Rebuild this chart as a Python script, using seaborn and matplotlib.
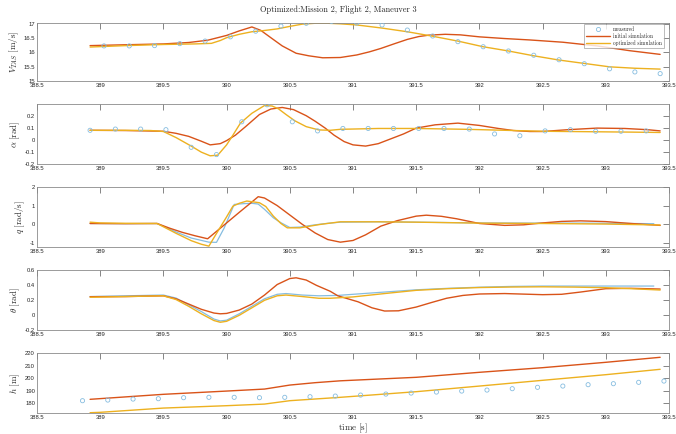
import numpy as np
import pandas as pd
import matplotlib
matplotlib.use('Agg')
import matplotlib.pyplot as plt
from matplotlib.ticker import FuncFormatter, MultipleLocator
import seaborn as sns

# ---------------- data ----------------
# measured samples
meas_V_t = [389.03 + 0.2 * k for k in range(23)]
meas_V = [16.23, 16.23, 16.24, 16.31, 16.40, 16.55, 16.75, 16.93, 17.03, 17.10, 17.04, 16.97,
          16.79, 16.58, 16.38, 16.20, 16.05, 15.90, 15.74, 15.60, 15.42, 15.31, 15.25]

meas_a_t = [388.92 + 0.2 * k for k in range(23)]
meas_a = [0.08, 0.09, 0.09, 0.085, -0.06, -0.12, 0.15, 0.29, 0.15, 0.075, 0.095, 0.095,
          0.095, 0.095, 0.095, 0.09, 0.05, 0.035, 0.075, 0.085, 0.072, 0.072, 0.075]

meas_q_t = [388.92, 389.2, 389.45, 389.6, 389.72, 389.86, 389.92, 389.98, 390.06, 390.13, 390.2,
            390.25, 390.3, 390.37, 390.43, 390.5, 390.58, 390.7, 390.8, 390.9, 391.2, 391.5,
            392.0, 392.5, 392.8, 393.0, 393.2, 393.38]
meas_q = [0.05, 0.04, 0.05, -0.4, -0.72, -0.94, -0.95, -0.2, 1.06, 1.1, 1.12,
          1.08, 0.8, 0.35, 0.09, -0.16, -0.14, -0.02, 0.06, 0.12, 0.14, 0.12,
          0.08, 0.07, 0.07, 0.06, 0.05, 0.04]

meas_th_t = [388.92, 389.2, 389.5, 389.6, 389.7, 389.8, 389.9, 389.95, 390.0, 390.1, 390.2,
             390.3, 390.4, 390.47, 390.6, 390.73, 390.88, 391.0, 391.25, 391.5, 391.75,
             392.0, 392.25, 392.5, 392.75, 393.0, 393.2, 393.38]
meas_th = [0.25, 0.26, 0.27, 0.23, 0.14, 0.05, -0.05, -0.075, -0.065, 0.02, 0.12,
           0.22, 0.28, 0.29, 0.27, 0.26, 0.265, 0.28, 0.31, 0.34, 0.36,
           0.375, 0.385, 0.39, 0.39, 0.39, 0.39, 0.39]

meas_h_t = [388.86 + 0.2 * k for k in range(24)]
meas_h = [182.1, 182.6, 183.4, 183.7, 184.5, 184.8, 184.8, 184.5, 184.8, 185.3, 185.8, 186.6,
          187.4, 188.2, 189.0, 189.8, 190.6, 191.7, 192.8, 193.8, 194.9, 195.7, 196.8, 197.8]

# initial simulation
init_V_t = [388.92, 389.2, 389.5, 389.7, 389.85, 390.0, 390.1, 390.2, 390.27, 390.35, 390.44,
            390.55, 390.65, 390.76, 390.9, 391.03, 391.13, 391.22, 391.33, 391.43, 391.52,
            391.6, 391.73, 391.85, 392.0, 392.2, 392.4, 392.66, 392.93, 393.19, 393.43]
init_V = [16.24, 16.27, 16.30, 16.35, 16.43, 16.60, 16.76, 16.90, 16.78, 16.52, 16.23,
          15.97, 15.88, 15.81, 15.82, 15.91, 16.02, 16.14, 16.31, 16.46, 16.56,
          16.61, 16.64, 16.62, 16.55, 16.49, 16.44, 16.36, 16.23, 16.06, 15.93]

init_a_t = [388.92, 389.2, 389.5, 389.6, 389.7, 389.8, 389.87, 389.95, 390.0, 390.07, 390.15,
            390.26, 390.35, 390.44, 390.53, 390.63, 390.7, 390.78, 390.85, 390.93, 391.0,
            391.1, 391.2, 391.3, 391.4, 391.5, 391.65, 391.83, 392.0, 392.15, 392.27, 392.4,
            392.5, 392.7, 392.93, 393.15, 393.33, 393.43]
init_a = [0.08, 0.078, 0.072, 0.055, 0.03, -0.01, -0.04, -0.03, -0.005, 0.04, 0.11,
          0.21, 0.255, 0.268, 0.25, 0.20, 0.155, 0.098, 0.04, -0.013, -0.04,
          -0.05, -0.03, 0.01, 0.05, 0.098, 0.125, 0.139, 0.12, 0.095, 0.078, 0.07,
          0.07, 0.085, 0.098, 0.095, 0.085, 0.075]

init_q_t = [388.92, 389.2, 389.45, 389.55, 389.65, 389.75, 389.85, 389.9, 390.0, 390.1, 390.2,
            390.25, 390.3, 390.4, 390.5, 390.6, 390.7, 390.8, 390.9, 391.0, 391.1, 391.22,
            391.35, 391.5, 391.58, 391.7, 391.82, 392.0, 392.2, 392.35, 392.5, 392.65, 392.8,
            393.0, 393.2, 393.43]
init_q = [0.05, 0.04, 0.05, -0.2, -0.42, -0.6, -0.76, -0.48, 0.08, 0.64, 1.19,
          1.47, 1.4, 1.0, 0.5, 0.0, -0.45, -0.8, -0.94, -0.85, -0.55, -0.09,
          0.2, 0.44, 0.49, 0.43, 0.30, 0.05, -0.05, -0.02, 0.08, 0.16, 0.19,
          0.15, 0.05, -0.05]

init_th_t = [388.92, 389.2, 389.5, 389.6, 389.7, 389.8, 389.9, 389.95, 390.0, 390.1, 390.2,
             390.3, 390.4, 390.5, 390.55, 390.63, 390.71, 390.82, 390.88, 391.04, 391.15,
             391.25, 391.36, 391.5, 391.62, 391.74, 391.87, 392.0, 392.2, 392.5, 392.65,
             392.8, 393.0, 393.2, 393.43]
init_th = [0.248, 0.25, 0.26, 0.22, 0.15, 0.08, 0.03, 0.02, 0.025, 0.07, 0.15,
           0.27, 0.41, 0.49, 0.50, 0.47, 0.40, 0.32, 0.26, 0.18, 0.10,
           0.057, 0.06, 0.11, 0.17, 0.227, 0.265, 0.284, 0.29, 0.275, 0.28,
           0.31, 0.355, 0.36, 0.35]

init_h_t = [388.92, 389.5, 390.0, 390.3, 390.5, 390.7, 390.9, 391.5, 392.0, 392.5, 393.0, 393.43]
init_h = [183.2, 187.2, 189.8, 191.4, 194.6, 196.5, 198.0, 200.8, 204.8, 208.5, 212.8, 216.8]

# optimized simulation
opt_V_t = [388.92, 389.2, 389.5, 389.75, 389.88, 389.95, 390.0, 390.1, 390.2, 390.29, 390.4,
           390.5, 390.6, 390.7, 390.8, 390.9, 391.03, 391.23, 391.43, 391.62, 391.83, 392.03,
           392.23, 392.43, 392.63, 392.83, 393.03, 393.23, 393.43]
opt_V = [16.19, 16.24, 16.28, 16.30, 16.32, 16.42, 16.52, 16.64, 16.73, 16.77, 16.83,
         16.92, 17.00, 17.03, 17.03, 17.01, 16.97, 16.86, 16.73, 16.58, 16.40, 16.20,
         16.05, 15.88, 15.73, 15.61, 15.49, 15.44, 15.41]

opt_a_t = [388.92, 389.2, 389.4, 389.5, 389.6, 389.72, 389.8, 389.87, 389.93, 390.0, 390.05,
           390.11, 390.2, 390.3, 390.36, 390.41, 390.47, 390.54, 390.63, 390.73, 390.82,
           390.9, 391.2, 391.5, 391.9, 392.2, 392.5, 392.9, 393.2, 393.43]
opt_a = [0.08, 0.08, 0.078, 0.07, 0.02, -0.05, -0.10, -0.13, -0.125, -0.04, 0.04,
         0.14, 0.22, 0.284, 0.28, 0.257, 0.21, 0.158, 0.11, 0.083, 0.08,
         0.088, 0.095, 0.095, 0.088, 0.08, 0.072, 0.068, 0.065, 0.062]

opt_q_t = [388.92, 389.0, 389.2, 389.45, 389.6, 389.72, 389.8, 389.86, 389.9, 389.95, 390.0,
           390.05, 390.1, 390.16, 390.26, 390.31, 390.37, 390.43, 390.48, 390.58, 390.74,
           390.9, 391.2, 391.5, 392.0, 392.5, 393.0, 393.43]
opt_q = [0.12, 0.08, 0.06, 0.05, -0.47, -0.86, -1.05, -1.15, -0.7, -0.15, 0.4,
         0.97, 1.12, 1.24, 1.15, 0.95, 0.44, 0.05, -0.18, -0.18, 0.0,
         0.14, 0.14, 0.12, 0.07, 0.05, 0.02, -0.03]

opt_th_t = [388.92, 389.2, 389.5, 389.6, 389.7, 389.8, 389.9, 389.95, 390.0, 390.1, 390.2,
            390.3, 390.4, 390.47, 390.6, 390.73, 390.82, 391.0, 391.25, 391.5, 391.75, 392.0,
            392.25, 392.5, 392.75, 393.0, 393.2, 393.43]
opt_th = [0.24, 0.25, 0.26, 0.21, 0.12, 0.02, -0.07, -0.093, -0.08, 0.0, 0.10,
          0.2, 0.26, 0.27, 0.25, 0.227, 0.227, 0.245, 0.29, 0.333, 0.355, 0.37,
          0.377, 0.38, 0.376, 0.368, 0.355, 0.337]

opt_h_t = [388.92, 389.0, 389.5, 390.0, 390.3, 390.5, 390.9, 391.5, 392.0, 392.5, 393.0, 393.43]
opt_h = [172.5, 172.8, 176.2, 178.1, 179.4, 182.1, 184.8, 189.3, 193.8, 198.4, 202.9, 207.2]

title_text = "Optimized:Mission 2, Flight 2, Maneuver 3"
ylabels = [r"$V_{TAS}\ \mathrm{[m/s]}$", r"$\alpha\ \mathrm{[rad]}$", r"$q\ \mathrm{[rad/s]}$",
           r"$\theta\ \mathrm{[rad]}$", r"$h\ \mathrm{[m]}$"]
xlabel_text = r"$\mathrm{time\ [s]}$"
legend_labels = ["measured", "initial simulation", "optimized simulation"]
xticks = [388.5, 389, 389.5, 390, 390.5, 391, 391.5, 392, 392.5, 393, 393.5]
yticks = [[15, 15.5, 16, 16.5, 17], [-0.2, -0.1, 0, 0.1, 0.2], [-1, 0, 1, 2],
          [-0.2, 0, 0.2, 0.4, 0.6], [180, 190, 200, 210, 220]]
ylims = [(15, 17.05), (-0.2, 0.294), (-1.18, 2), (-0.2, 0.6), (172.5, 220)]

# ---------------- style ----------------
sns.set_theme(style='white')
plt.rcParams.update({
    'font.family': ['Liberation Sans', 'DejaVu Sans'],
    'mathtext.fontset': 'cm',
    'axes.edgecolor': '#8a8a8a',
    'axes.linewidth': 0.6,
    'xtick.color': '#555555',
    'ytick.color': '#555555',
    'xtick.labelcolor': '#262626',
    'ytick.labelcolor': '#262626',
})

C_MEAS = '#86bde0'
C_INIT = '#D95319'
C_OPT = '#EDB120'

fig = plt.figure(figsize=(6.76, 4.34), dpi=100)
W, H = 676.0, 434.0
left, right = 37, 669
panels_px = [(22.7, 80.7), (104.3, 164.3), (186.7, 246.7), (270.3, 330.3), (353.3, 412.7)]
axes = []
for top, bot in panels_px:
    ax = fig.add_axes([left / W, 1 - bot / H, (right - left) / W, (bot - top) / H])
    axes.append(ax)

fmt = FuncFormatter(lambda v, p: ('%g' % round(v, 6)))

meas_sets = [(meas_V_t, meas_V, 'o'), (meas_a_t, meas_a, 'o'), (meas_q_t, meas_q, '-'),
             (meas_th_t, meas_th, '-'), (meas_h_t, meas_h, 'o')]
init_sets = [(init_V_t, init_V), (init_a_t, init_a), (init_q_t, init_q),
             (init_th_t, init_th), (init_h_t, init_h)]
opt_sets = [(opt_V_t, opt_V), (opt_a_t, opt_a), (opt_q_t, opt_q),
            (opt_th_t, opt_th), (opt_h_t, opt_h)]

for i, ax in enumerate(axes):
    mt, mv, kind = meas_sets[i]
    lab0 = legend_labels[0] if i == 0 else None
    if kind == 'o':
        sns.scatterplot(x=mt, y=mv, ax=ax, marker='o', s=9, facecolors='none',
                        edgecolor=C_MEAS, linewidth=0.6, label=lab0, legend=False, zorder=3)
    else:
        sns.lineplot(x=mt, y=mv, ax=ax, color=C_MEAS, linewidth=0.9, estimator=None,
                     sort=False, legend=False)
    it, iv = init_sets[i]
    sns.lineplot(x=it, y=iv, ax=ax, color=C_INIT, linewidth=1.0, estimator=None, sort=False,
                 label=legend_labels[1] if i == 0 else None, legend=False)
    ot, ov = opt_sets[i]
    sns.lineplot(x=ot, y=ov, ax=ax, color=C_OPT, linewidth=1.0, estimator=None, sort=False,
                 label=legend_labels[2] if i == 0 else None, legend=False)

    ax.set_xlim(388.5, 393.5)
    ax.set_ylim(*ylims[i])
    ax.set_xticks(xticks)
    ax.set_yticks(yticks[i])
    ax.xaxis.set_major_formatter(fmt)
    ax.yaxis.set_major_formatter(fmt)
    ax.tick_params(direction='in', length=4, width=0.5, top=True, right=True,
                   labelsize=4.2, pad=1.5)
    ax.set_ylabel(ylabels[i], fontsize=6.5, labelpad=2)
    ax.set_xlabel('')
    for sp in ax.spines.values():
        sp.set_visible(True)

axes[-1].set_xlabel(xlabel_text, fontsize=6.5, labelpad=1)
fig.text(338 / W, 1 - 10 / H, title_text, ha='center', va='center', fontsize=6,
         family='cmr10')

from matplotlib.lines import Line2D
handles = [Line2D([], [], marker='o', ls='none', mfc='none', mec=C_MEAS, ms=3, mew=0.6),
           Line2D([], [], color=C_INIT, lw=1.0),
           Line2D([], [], color=C_OPT, lw=1.0)]
leg = axes[0].legend(handles, legend_labels, loc='upper right',
                     bbox_to_anchor=(0.992, 0.98), borderaxespad=0,
                     prop={'family': 'cmr10', 'size': 3.8}, frameon=True, fancybox=False,
                     handlelength=4.5, handletextpad=0.6, borderpad=0.35, labelspacing=0.25)
leg.get_frame().set_edgecolor('#8a8a8a')
leg.get_frame().set_linewidth(0.5)

fig.savefig('out.png', dpi=100)
